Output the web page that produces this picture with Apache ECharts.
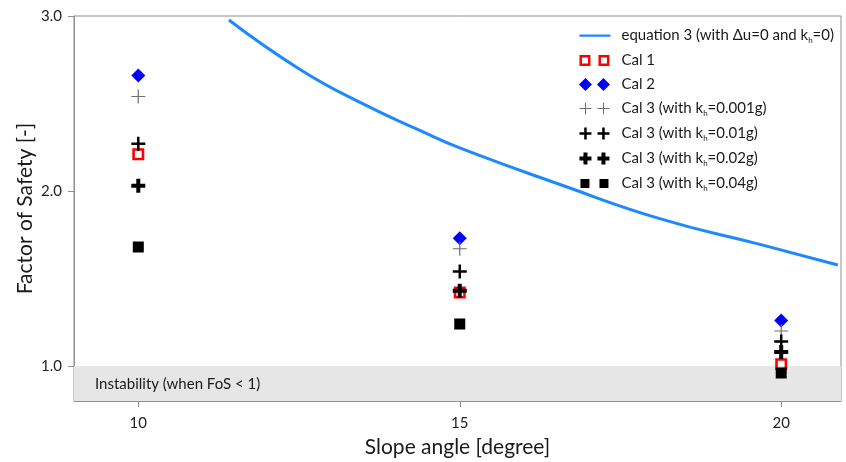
<!DOCTYPE html>
<html>
<head>
<meta charset="utf-8">
<script src="https://cdn.jsdelivr.net/npm/echarts@6/dist/echarts.min.js"></script>
<style>html,body{margin:0;padding:0;background:#fff}#c{width:846px;height:462px}</style>
</head>
<body>
<div id="c"></div>
<script>
// ---- data ----
var xTicks = [10, 15, 20];
var yTicks = [1, 2, 3];
var eq3X = [11.41, 12.51, 13.45, 14.38, 15.0, 16.56, 18.11, 19.67, 20.88];
var eq3Y = [2.977, 2.696, 2.506, 2.346, 2.246, 2.037, 1.842, 1.695, 1.577];
var slopes = [10, 15, 20];
var cal1 = [2.21, 1.42, 1.01];
var cal2 = [2.66, 1.73, 1.26];
var cal3_0001 = [2.54, 1.67, 1.20];
var cal3_001 = [2.27, 1.54, 1.14];
var cal3_002 = [2.03, 1.43, 1.08];
var cal3_004 = [1.68, 1.24, 0.96];
var names = [
  'equation 3 (with Δu=0 and kh=0)',
  'Cal 1',
  'Cal 2',
  'Cal 3 (with kh=0.001g)',
  'Cal 3 (with kh=0.01g)',
  'Cal 3 (with kh=0.02g)',
  'Cal 3 (with kh=0.04g)'
];

function pairs(xs, ys) { return xs.map(function (x, i) { return [x, ys[i]]; }); }

var FONT = 'Lato, "Open Sans", sans-serif';

// marker paths
var P_HOLLOW = 'path://M0,0h12v12h-12z M2.6,2.6v6.8h6.8v-6.8z';
var P_THIN = 'path://M6.4,0h1.2v14h-1.2z M0,6.4h14v1.2h-14z';
var P_MED = 'path://M5.75,0h2.5v14h-2.5z M0,5.75h14v2.5h-14z';
var P_BOLD = 'path://M5,0h4v14h-4z M0,5h14v4h-14z';

// legend icons (two markers each, bbox 38x13, marks in first 32)
var L_LINE = 'path://M0,0 M1,5.5h31v2.2h-31z M38,13';
var L_HOLLOW = 'path://M0,0 M1,1h11v11h-11z M3.5,3.5v6h6v-6z M20,1h11v11h-11z M22.5,3.5v6h6v-6z M38,13';
var L_DIAM = 'path://M0,0 M7,0L13.5,6.5L7,13L0.5,6.5Z M25,0L31.5,6.5L25,13L18.5,6.5Z M38,13';
var L_THIN = 'path://M0,0 M6.5,0.5h1v12h-1z M1,6h12v1h-12z M24.5,0.5h1v12h-1z M19,6h12v1h-12z M38,13';
var L_MED = 'path://M0,0 M5.75,0.5h2.5v12h-2.5z M1,5.25h12v2.5h-12z M23.75,0.5h2.5v12h-2.5z M19,5.25h12v2.5h-12z M38,13';
var L_BOLD = 'path://M0,0 M5,0.5h4v12h-4z M1,4.5h12v4h-12z M23,0.5h4v12h-4z M19,4.5h12v4h-12z M38,13';
var L_SQ = 'path://M0,0 M2,2h9v9h-9z M21,2h9v9h-9z M38,13';

var chart = echarts.init(document.getElementById('c'), null, { renderer: 'canvas' });

function legendFmt(name) {
  if (name.indexOf('kh') >= 0) {
    var parts = name.split('kh');
    return '{t|' + parts[0] + 'k}{s|h}{t|' + parts[1] + '}';
  }
  return '{t|' + name + '}';
}

var option = {
  animation: false,
  backgroundColor: '#fff',
  textStyle: { fontFamily: FONT },
  grid: {
    left: 74, right: 5, top: 16, bottom: 61,
    outerBoundsMode: 'none',
    containLabel: false,
    show: true, borderColor: '#8f8f8f', borderWidth: 1, backgroundColor: 'transparent'
  },
  legend: {
    orient: 'vertical',
    right: 7,
    top: 23,
    itemWidth: 38,
    itemHeight: 13,
    itemGap: 9,
    selectedMode: false,
    formatter: legendFmt,
    textStyle: {
      fontFamily: FONT,
      fontSize: 15,
      color: '#1a1a1a',
      rich: {
        t: { fontFamily: FONT, fontSize: 15, color: '#1a1a1a' },
        s: { fontFamily: FONT, fontSize: 8, color: '#1a1a1a', padding: [9, 0, 0, 0] }
      }
    },
    data: [
      { name: names[0], icon: L_LINE },
      { name: names[1], icon: L_HOLLOW },
      { name: names[2], icon: L_DIAM },
      { name: names[3], icon: L_THIN },
      { name: names[4], icon: L_MED },
      { name: names[5], icon: L_BOLD },
      { name: names[6], icon: L_SQ }
    ]
  },
  xAxis: {
    type: 'value',
    min: 9, max: 20.93,
    name: 'Slope angle [degree]',
    nameLocation: 'middle',
    nameGap: 36,
    nameMoveOverlap: false,
    nameTextStyle: { fontFamily: FONT, fontSize: 21, color: '#1a1a1a' },
    axisLine: { show: true, lineStyle: { color: '#8f8f8f', width: 1 } },
    axisTick: { show: true, length: 6, lineStyle: { color: '#8f8f8f' }, customValues: xTicks },
    axisLabel: { fontFamily: FONT, fontSize: 15, color: '#222', margin: 15, customValues: xTicks },
    splitLine: { show: false }
  },
  yAxis: {
    type: 'value',
    min: 0.8, max: 3.0,
    name: 'Factor of Safety [-]',
    nameLocation: 'middle',
    nameGap: 38,
    nameMoveOverlap: false,
    nameTextStyle: { fontFamily: FONT, fontSize: 21, color: '#1a1a1a' },
    axisLine: { show: true, lineStyle: { color: '#8f8f8f', width: 1 } },
    axisTick: { show: true, length: 6, lineStyle: { color: '#8f8f8f' }, customValues: yTicks },
    axisLabel: {
      fontFamily: FONT, fontSize: 15, color: '#222', margin: 12, customValues: yTicks,
      formatter: function (v) { return v.toFixed(1); }
    },
    splitLine: { show: false }
  },
  series: [
    {
      name: names[0], type: 'line', smooth: true, symbol: 'none', showSymbol: false,
      data: pairs(eq3X, eq3Y),
      lineStyle: { color: '#1e88ff', width: 3 },
      itemStyle: { color: '#1e88ff' },
      z: 2,
      markArea: {
        silent: true,
        itemStyle: { color: '#e6e6e6' },
        label: {
          show: true, position: 'insideLeft', offset: [16, 1],
          fontFamily: FONT, fontSize: 15, color: '#1a1a1a'
        },
        data: [[{ name: 'Instability (when FoS < 1)', yAxis: 0.8 }, { yAxis: 1.0 }]]
      }
    },
    {
      name: names[1], type: 'scatter', symbol: P_HOLLOW, symbolSize: 12,
      itemStyle: { color: '#ff0000', opacity: 1 }, data: pairs(slopes, cal1), z: 3
    },
    {
      name: names[2], type: 'scatter', symbol: 'diamond', symbolSize: 14,
      itemStyle: { color: '#0000ff', opacity: 1 }, data: pairs(slopes, cal2), z: 4
    },
    {
      name: names[3], type: 'scatter', symbol: P_THIN, symbolSize: 14,
      itemStyle: { color: '#6e6e6e', opacity: 1 }, data: pairs(slopes, cal3_0001), z: 5
    },
    {
      name: names[4], type: 'scatter', symbol: P_MED, symbolSize: 14,
      itemStyle: { color: '#000', opacity: 1 }, data: pairs(slopes, cal3_001), z: 6
    },
    {
      name: names[5], type: 'scatter', symbol: P_BOLD, symbolSize: 14,
      itemStyle: { color: '#000', opacity: 1 }, data: pairs(slopes, cal3_002), z: 7
    },
    {
      name: names[6], type: 'scatter', symbol: 'rect', symbolSize: 11,
      itemStyle: { color: '#000', opacity: 1 }, data: pairs(slopes, cal3_004), z: 8
    }
  ]
};
chart.setOption(option);
</script>
</body>
</html>
